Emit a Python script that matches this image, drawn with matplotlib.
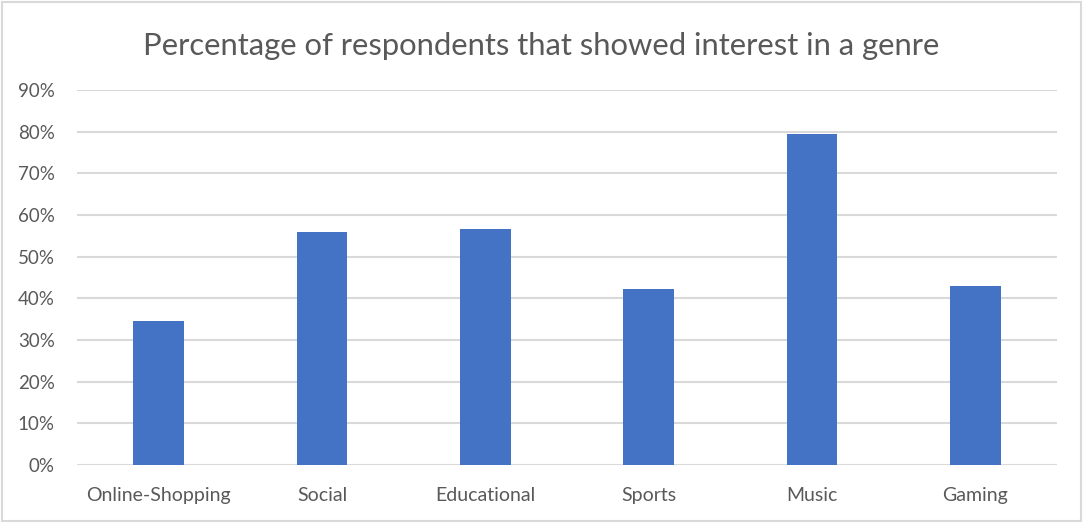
import matplotlib.pyplot as plt
from matplotlib.patches import Rectangle
from matplotlib.ticker import PercentFormatter

# Data
genres = ["Online-Shopping", "Social", "Educational", "Sports", "Music", "Gaming"]
interest = [34.6, 55.9, 56.7, 42.3, 79.4, 43.0]
y_ticks = [0, 10, 20, 30, 40, 50, 60, 70, 80, 90]

plt.rcParams['font.family'] = ['Lato', 'DejaVu Sans']

fig = plt.figure(figsize=(10.83, 5.23), dpi=100)
ax = fig.add_axes([0.0711, 0.1109, 0.905, 0.717])

# figure border
fig.patches.append(Rectangle((0.002, 0.003), 0.996, 0.993, transform=fig.transFigure,
                             fill=False, edgecolor="#d9d9d9", linewidth=1.5))

x = range(len(genres))
ax.bar(x, interest, width=0.31, color="#4472C4", zorder=3)

ax.set_xlim(-0.5, len(genres) - 0.5)
ax.set_ylim(0, 90)
ax.set_yticks(y_ticks)
ax.yaxis.set_major_formatter(PercentFormatter(decimals=0))
ax.set_xticks(list(x))
ax.set_xticklabels(genres)
ax.grid(axis="y", color="#d9d9d9", linewidth=1.5, zorder=0)
ax.tick_params(length=0, colors="#595959")
ax.tick_params(axis="x", pad=16, labelsize=14)
ax.tick_params(axis="y", pad=16, labelsize=13.5)
for side in ["top", "right", "left", "bottom"]:
    ax.spines[side].set_visible(False)

fig.text(0.5, 0.913, "Percentage of respondents that showed interest in a genre",
         ha="center", va="center", fontsize=22.3, color="#595959")

fig.savefig("out.png", dpi=100)
